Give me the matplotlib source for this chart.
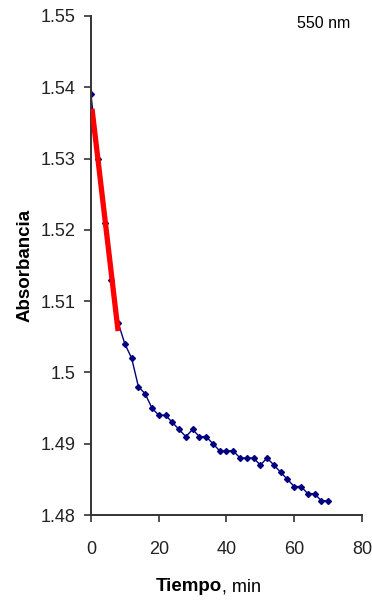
import matplotlib.pyplot as plt
import numpy as np

# tiempo (min) y absorbancia a 550 nm
tiempo = [0, 2, 4, 6, 8, 10, 12, 14, 16, 18, 20, 22, 24, 26, 28, 30, 32, 34,
          36, 38, 40, 42, 44, 46, 48, 50, 52, 54, 56, 58, 60, 62, 64, 66, 68, 70]
absorbancia = [1.539, 1.530, 1.521, 1.513, 1.507, 1.504, 1.502, 1.498, 1.497,
               1.495, 1.494, 1.494, 1.493, 1.492, 1.491, 1.492, 1.491, 1.491,
               1.490, 1.489, 1.489, 1.489, 1.488, 1.488, 1.488, 1.487, 1.488,
               1.487, 1.486, 1.485, 1.484, 1.484, 1.483, 1.483, 1.482, 1.482]
n_ajuste = 5  # puntos iniciales para la recta


def main():
    plt.rcParams['font.family'] = ['Liberation Sans', 'DejaVu Sans']
    fig = plt.figure(figsize=(3.72, 6.03), dpi=100)
    ax = fig.add_axes([0.2446, 0.1459, 0.7284, 0.8276])

    ax.plot(tiempo, absorbancia, color='#000080', lw=1, marker='D', ms=3,
            zorder=2)

    # recta de la pendiente inicial
    t0 = np.array(tiempo[:n_ajuste])
    a0 = np.array(absorbancia[:n_ajuste])
    m, b = np.polyfit(t0, a0, 1)
    tt = np.array([t0[0] + 0.3, t0[-1]])
    ax.plot(tt, m * tt + b, color='#ff0000', lw=3.8, solid_capstyle='butt',
            zorder=3)

    ax.set_xlim(0, 80)
    ax.set_ylim(1.48, 1.55)
    ax.set_xticks([0, 20, 40, 60, 80])
    ax.set_yticks([1.48, 1.49, 1.5, 1.51, 1.52, 1.53, 1.54, 1.55])
    ax.set_yticklabels(['1.48', '1.49', '1.5', '1.51', '1.52', '1.53',
                        '1.54', '1.55'])
    for s in ['top', 'right']:
        ax.spines[s].set_visible(False)
    for s in ['left', 'bottom']:
        ax.spines[s].set_color('#333333')
        ax.spines[s].set_linewidth(1.4)
    ax.tick_params(direction='out', length=5, width=1.2, color='#333333',
                   labelsize=13, labelcolor='#222222')
    ax.tick_params(axis='x', pad=14)
    ax.tick_params(axis='y', pad=6)

    ax.set_ylabel('Absorbancia', fontsize=13.5, fontweight='bold', labelpad=5)
    ax.text(0.483, -0.144, 'Tiempo', transform=ax.transAxes, fontsize=13.5,
            fontweight='bold', ha='right', va='center')
    ax.text(0.483, -0.144, ', min', transform=ax.transAxes, fontsize=13,
            ha='left', va='center')
    ax.text(0.86, 0.985, '550 nm', transform=ax.transAxes, fontsize=11.5,
            ha='center', va='center')

    fig.savefig('out.png', dpi=100)


if __name__ == '__main__':
    main()
